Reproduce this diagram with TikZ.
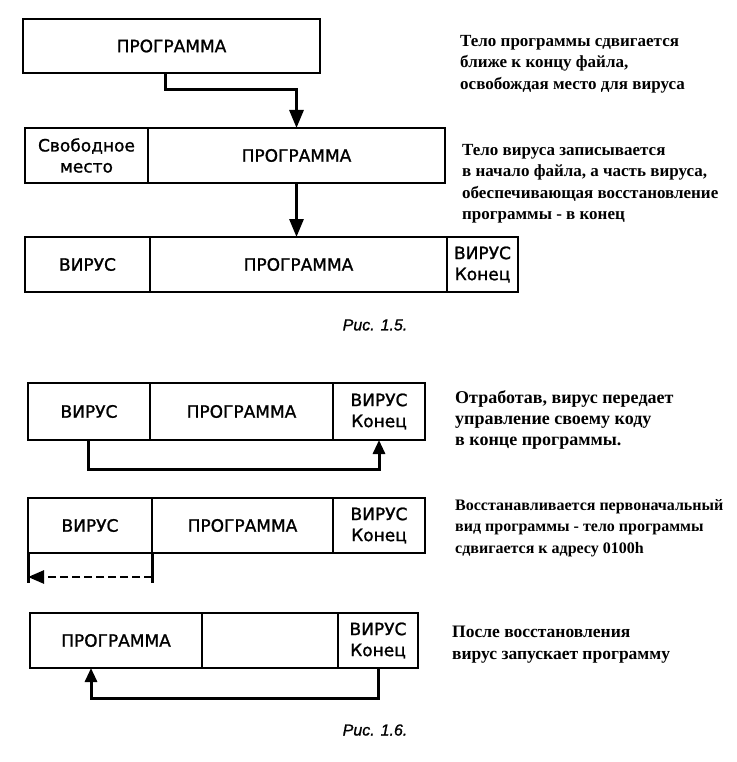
\documentclass[tikz,border=0pt]{standalone}
\usepackage{fontspec}
\setmainfont{Liberation Serif}
\newfontfamily\boxfont[FakeBold=1.2]{DejaVu Sans}
\newfontfamily\capfont[FakeBold=1]{Liberation Sans}
\usetikzlibrary{arrows.meta}
\begin{document}
\begin{tikzpicture}[x=1pt,y=-1pt,
  cell/.style={draw, line width=2.8pt, inner sep=0pt, outer sep=0pt, align=center,
    font=\boxfont\fontsize{17}{21}\selectfont},
  conn/.style={line width=3pt, line join=miter},
  bigtip/.style={-{Triangle[length=18pt,width=14pt]}},
  smalltip/.style={-{Triangle[length=14pt,width=12pt]}},
  note/.style={anchor=north west, inner sep=0pt, align=left,
    font=\fontsize{17}{21.5}\selectfont\bfseries},
  caption/.style={font=\capfont\itshape\fontsize{16}{18}\selectfont}]
\useasboundingbox (0,0) rectangle (736,762);
\fill[white] (0,0) rectangle (736,762);

% Fig 1.5
\node[cell, minimum width=297pt, minimum height=54pt] (b1) at (171.5,46) {ПРОГРАММА};

\node[cell, minimum width=123pt, minimum height=55pt] (b2a) at (86.5,155.5) {Свободное\\место};
\node[cell, minimum width=297pt, minimum height=55pt] (b2b) at (296.5,155.5) {ПРОГРАММА};

\node[cell, minimum width=125pt, minimum height=55pt] (b3a) at (87.5,264.5) {ВИРУС};
\node[cell, minimum width=297pt, minimum height=55pt] (b3b) at (298.5,264.5) {ПРОГРАММА};
\node[cell, minimum width=71pt, minimum height=55pt] (b3c) at (482.5,264.5) {ВИРУС\\Конец};

\coordinate (k1) at (165,90);
\draw[conn,bigtip] (k1 |- b1.south) -- (k1) -| (b2b.north);
\draw[conn,bigtip] (b2b.south) -- (b2b.south |- b3b.north);

\node[caption] (cap1) at (375,325) {Рис. 1.5.};

% Fig 1.6
\node[cell, minimum width=122pt, minimum height=57pt] (b4a) at (89,411.5) {ВИРУС};
\node[cell, minimum width=183pt, minimum height=57pt] (b4b) at (241.5,411.5) {ПРОГРАММА};
\node[cell, minimum width=92pt, minimum height=57pt] (b4c) at (379,411.5) {ВИРУС\\Конец};

\coordinate (k3) at (88,469);
\draw[conn,smalltip] (k3 |- b4a.south) -- (k3) -| (b4c.south);

\node[cell, minimum width=124pt, minimum height=55pt] (b5a) at (90,525.5) {ВИРУС};
\node[cell, minimum width=181pt, minimum height=55pt] (b5b) at (242.5,525.5) {ПРОГРАММА};
\node[cell, minimum width=92pt, minimum height=55pt] (b5c) at (379,525.5) {ВИРУС\\Конец};

\draw[conn] (b5a.south west) -- ++(0,30);
\draw[conn] (b5a.south east) -- ++(0,30);
\draw[line width=2.6pt, dash pattern=on 8pt off 4pt, -{Triangle[length=16pt,width=13pt]}]
  ([yshift=-24pt]b5a.south east) -- ([yshift=-24pt]b5a.south west);

\node[cell, minimum width=172pt, minimum height=55pt] (b6a) at (116,640.5) {ПРОГРАММА};
\node[cell, minimum width=136pt, minimum height=55pt] (b6b) at (270,640.5) {};
\node[cell, minimum width=80pt, minimum height=55pt] (b6c) at (378,640.5) {ВИРУС\\Конец};

\coordinate (k5) at (91,698);
\draw[conn,smalltip] (b6c.south) |- (k5) -- (k5 |- b6a.south);

\node[caption] (cap2) at (375,730) {Рис. 1.6.};

% Notes
\node[note] (t1) at (460,35) {Тело программы сдвигается\\ближе к концу файла,\\освобождая место для вируса};
\node[note] (t2) at (462,144) {Тело вируса записывается\\в начало файла, а часть вируса,\\обеспечивающая восстановление\\программы - в конец};
\node[note, font=\fontsize{18}{21}\selectfont\bfseries] (t3) at (455,390) {Отработав, вирус передает\\управление своему коду\\в конце программы.};
\node[note, font=\fontsize{16}{21.5}\selectfont\bfseries] (t4) at (455,499) {Восстанавливается первоначальный\\вид программы - тело программы\\сдвигается к адресу 0100h};
\node[note, font=\fontsize{17.5}{22}\selectfont\bfseries] (t5) at (452,626) {После восстановления\\вирус запускает программу};
\end{tikzpicture}
\end{document}
